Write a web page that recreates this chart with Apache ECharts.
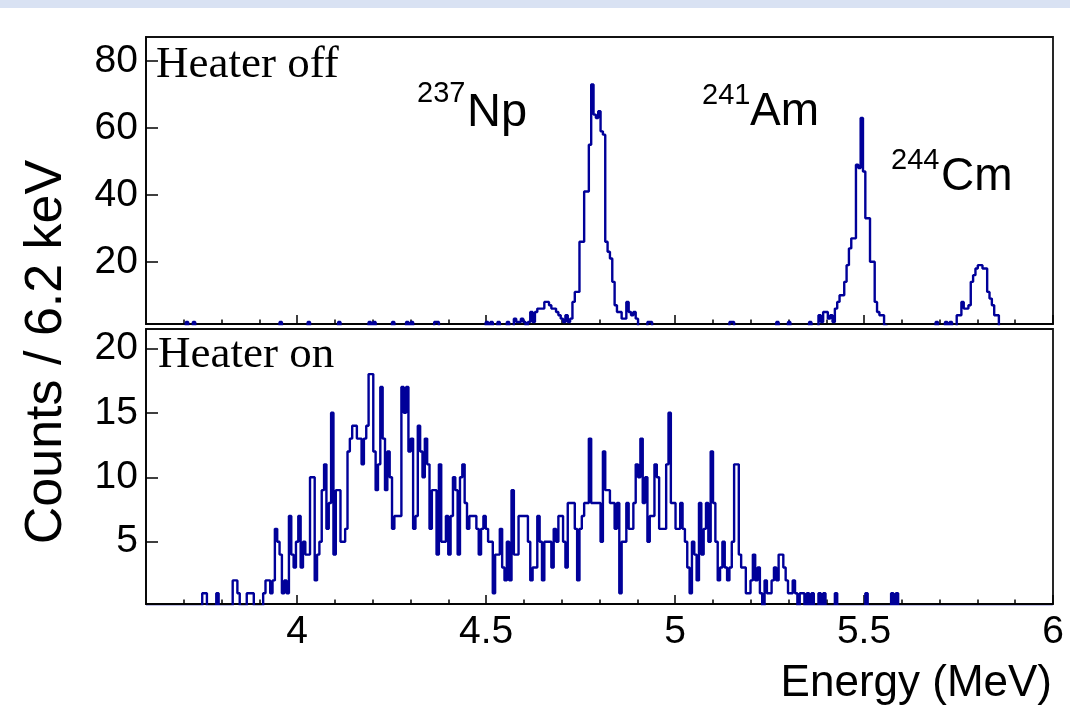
<!DOCTYPE html>
<html><head><meta charset="utf-8">
<script src="https://cdn.jsdelivr.net/npm/echarts@6/dist/echarts.min.js"></script>
<style>html,body{margin:0;padding:0;background:#fff}#c{width:1070px;height:719px}</style>
</head><body><div id="c"></div>
<script>
// ---- data ----
const BIN_START = 3.6;      // MeV, low edge of first bin
const BIN_WIDTH = 0.0062;   // MeV (6.2 keV)

const HEATER_OFF = [
  0,0,0,0,0,0,0,0,0,0,
  0,0,0,0,0,0,0,2,0,0,
  2,0,0,0,0,0,0,0,0,0,
  0,0,0,0,0,0,0,0,0,0,
  0,0,0,0,0,0,0,0,0,0,
  0,0,0,0,0,0,0,2,0,0,
  0,0,0,0,0,0,0,0,0,2,
  0,0,0,0,0,0,0,0,0,0,
  0,0,2,0,0,0,0,0,0,0,
  0,0,0,0,0,2,0,2,0,0,
  0,0,0,0,0,2,0,0,0,0,
  0,2,0,2,0,0,0,0,0,0,
  0,0,0,2,2,0,0,0,0,0,
  0,0,0,0,0,0,0,0,0,0,
  0,0,0,0,0,2,0,2,0,0,
  2,0,0,0,2,0,0,3,2,2,
  3,2,0,2,5,2,5,6,6,6,
  8,8,7,6,6,5,4,3,2,4,
  2,3,8,11,11,26,26,41,41,55,
  73,64,63,65,59,58,26,23,21,14,
  7,5,5,3,3,8,5,4,5,3,
  0,0,0,0,2,2,0,0,0,0,
  0,0,0,0,0,0,0,0,0,0,
  0,0,0,0,0,0,0,0,0,0,
  0,0,0,0,0,0,0,0,0,2,
  2,0,0,0,0,0,0,0,0,0,
  0,0,0,0,0,0,0,0,0,2,
  0,0,0,0,2,0,0,0,0,0,
  0,0,0,2,0,0,0,4,2,5,
  5,3,4,2,6,8,10,10,14,19,
  24,27,27,49,48,63,47,33,33,20,
  20,8,5,4,4,1,0,0,0,0,
  0,0,0,0,0,0,0,0,0,0,
  0,0,0,0,0,0,0,2,0,0,
  0,2,0,2,0,0,4,4,8,6,
  6,7,14,16,18,19,19,18,18,11,
  9,7,4,4,0,0,0,0,0,0,
  0,0,0,0,0,0,0,0,0,0,
  0,0,0,0,0,0,0
];

const HEATER_ON = [
  0,0,0,0,0,0,0,0,0,0,
  0,0,0,0,0,0,0,0,0,0,
  0,0,0,0,1,1,0,0,0,0,
  1,0,0,0,0,0,0,2,2,1,
  0,0,0,1,1,1,0,0,0,0,
  1,2,2,1,2,6,5,4,1,2,
  1,7,4,3,5,7,3,5,4,4,
  10,10,2,4,5,9,11,6,8,15,
  4,9,9,5,5,6,12,13,14,14,
  13,13,11,13,14,18,18,12,9,11,
  17,13,9,12,10,6,7,7,7,17,
  15,17,12,13,6,7,14,12,10,13,
  11,6,9,9,4,11,5,5,7,4,
  7,10,9,4,10,11,8,6,7,7,
  7,6,4,6,7,6,5,5,1,4,
  4,6,3,2,5,2,9,4,4,7,
  7,7,7,5,2,3,3,7,5,2,
  5,5,5,3,6,5,7,7,5,3,
  8,8,8,6,2,6,7,8,8,13,
  8,8,8,8,5,12,9,9,8,8,
  6,8,1,5,5,8,6,6,8,11,
  10,13,8,10,5,7,7,11,10,6,
  6,6,11,15,8,8,6,6,8,6,
  5,3,1,5,4,2,8,4,6,8,
  5,12,8,5,2,3,5,3,2,3,
  5,11,11,4,3,3,1,1,2,4,
  2,3,1,0,2,1,1,2,3,2,
  4,4,3,2,1,1,2,1,0,1,
  1,0,1,0,1,0,0,1,0,1,
  0,0,0,0,1,0,0,0,0,0,
  0,0,0,0,0,0,0,1,0,0,
  0,0,0,0,0,0,0,0,1,0,
  1,0,0,0,0,0,0,0,0,0,
  0,0,0,0,0,0,0,0,0,0,
  0,0,0,0,0,0,0,0,0,0,
  0,0,0,0,0,0,0,0,0,0,
  0,0,0,0,0,0,0,0,0,0,
  0,0,0,0,0,0,0,0,0,0,
  0,0,0,0,0,0,0
];

const X_MAJOR = [4, 4.5, 5, 5.5, 6];
const X_MAJOR_LABELS = ['4', '4.5', '5', '5.5', '6'];
const X_MINOR = [3.7,3.8,3.9,4.1,4.2,4.3,4.4,4.6,4.7,4.8,4.9,5.1,5.2,5.3,5.4,5.6,5.7,5.8,5.9];
const Y_TOP_TICKS = [20, 40, 60, 80];
const Y_BOT_TICKS = [5, 10, 15, 20];

// ---- build ----
function toSteps(counts) {
  const pts = [];
  for (let i = 0; i < counts.length; i++) pts.push([BIN_START + i * BIN_WIDTH, counts[i]]);
  pts.push([BIN_START + counts.length * BIN_WIDTH, counts[counts.length - 1]]);
  return pts;
}

const SANS = 'Liberation Sans, Arial, sans-serif';
const SERIF = 'Liberation Serif, Times New Roman, serif';
const BLUE = '#000099';
const TICKFS = 39;

function majorX(grid, labels) {
  return {
    type: 'value', gridIndex: grid, min: 3.6, max: 6.0, position: 'bottom',
    axisLine: { show: true, onZero: false, lineStyle: { color: '#000', width: 1.5 } },
    axisTick: { show: true, inside: true, length: 9, customValues: X_MAJOR, lineStyle: { color: '#000', width: 1.5 } },
    axisLabel: labels ? {
      show: true, customValues: X_MAJOR, margin: 9, fontSize: TICKFS, fontFamily: SANS, color: '#000',
      formatter: v => X_MAJOR_LABELS[X_MAJOR.indexOf(v)]
    } : { show: false, customValues: X_MAJOR },
    splitLine: { show: false }
  };
}
function minorX(grid) {
  return {
    type: 'value', gridIndex: grid, min: 3.6, max: 6.0, position: 'bottom',
    axisLine: { show: false },
    axisTick: { show: true, inside: true, length: 4.5, customValues: X_MINOR, lineStyle: { color: '#000', width: 1.5 } },
    axisLabel: { show: false, customValues: X_MINOR },
    splitLine: { show: false }
  };
}
function yAx(grid, min, max, ticks) {
  return {
    type: 'value', gridIndex: grid, min: min, max: max,
    axisLine: { show: true, onZero: false, lineStyle: { color: '#000', width: 1.5 } },
    axisTick: { show: true, inside: true, length: 12, customValues: ticks, lineStyle: { color: '#000', width: 1.5 } },
    axisLabel: { show: true, customValues: ticks, margin: 8, fontSize: TICKFS, fontFamily: SANS, color: '#000' },
    splitLine: { show: false }
  };
}

const chart = echarts.init(document.getElementById('c'), null, { renderer: 'canvas' });
chart.setOption({
  animation: false,
  backgroundColor: '#fff',
  grid: [
    { left: 146, top: 37, width: 907, height: 287, show: true, borderColor: '#111', borderWidth: 1.8, backgroundColor: 'transparent' },
    { left: 146, top: 329, width: 907, height: 275, show: true, borderColor: '#111', borderWidth: 1.8, backgroundColor: 'transparent' }
  ],
  xAxis: [majorX(0, false), minorX(0), majorX(1, true), minorX(1)],
  yAxis: [yAx(0, 1.4, 87.2, Y_TOP_TICKS), yAx(1, 0.17, 21.5, Y_BOT_TICKS)],
  series: [
    { type: 'line', name: 'Heater off', xAxisIndex: 0, yAxisIndex: 0, step: 'end', showSymbol: false, symbol: 'none',
      lineStyle: { color: BLUE, width: 2.4 }, data: toSteps(HEATER_OFF), clip: true },
    { type: 'line', name: 'Heater on', xAxisIndex: 2, yAxisIndex: 1, step: 'end', showSymbol: false, symbol: 'none',
      lineStyle: { color: BLUE, width: 2.4 }, data: toSteps(HEATER_ON), clip: true }
  ],
  graphic: [
    { type: 'rect', shape: { x: 0, y: 0, width: 1070, height: 8 }, style: { fill: '#d9e2f3' }, silent: true },
    { type: 'text', x: 156, y: 65.6, style: { text: 'Heater off', font: '45px ' + SERIF, fill: '#000', align: 'left', verticalAlign: 'middle' } },
    { type: 'text', x: 158, y: 355.6, style: { text: 'Heater on', font: '45px ' + SERIF, fill: '#000', align: 'left', verticalAlign: 'middle' } },
    { type: 'text', x: 417, y: 94, style: { text: '237', font: '29px ' + SANS, fill: '#000', align: 'left', verticalAlign: 'middle' } },
    { type: 'text', x: 467, y: 112.7, style: { text: 'Np', font: '47px ' + SANS, fill: '#000', align: 'left', verticalAlign: 'middle' } },
    { type: 'text', x: 702, y: 96, style: { text: '241', font: '29px ' + SANS, fill: '#000', align: 'left', verticalAlign: 'middle' } },
    { type: 'text', x: 750, y: 112.7, style: { text: 'Am', font: '46px ' + SANS, fill: '#000', align: 'left', verticalAlign: 'middle' } },
    { type: 'text', x: 891, y: 161, style: { text: '244', font: '29px ' + SANS, fill: '#000', align: 'left', verticalAlign: 'middle' } },
    { type: 'text', x: 941, y: 177.7, style: { text: 'Cm', font: '46px ' + SANS, fill: '#000', align: 'left', verticalAlign: 'middle' } },
    { type: 'text', x: 47, y: 352, rotation: Math.PI / 2, style: { text: 'Counts / 6.2 keV', font: '52px ' + SANS, fill: '#000', align: 'center', verticalAlign: 'middle' } },
    { type: 'text', x: 1052, y: 684, style: { text: 'Energy (MeV)', font: '44px ' + SANS, fill: '#000', align: 'right', verticalAlign: 'middle' } }
  ]
});
</script>
</body></html>
